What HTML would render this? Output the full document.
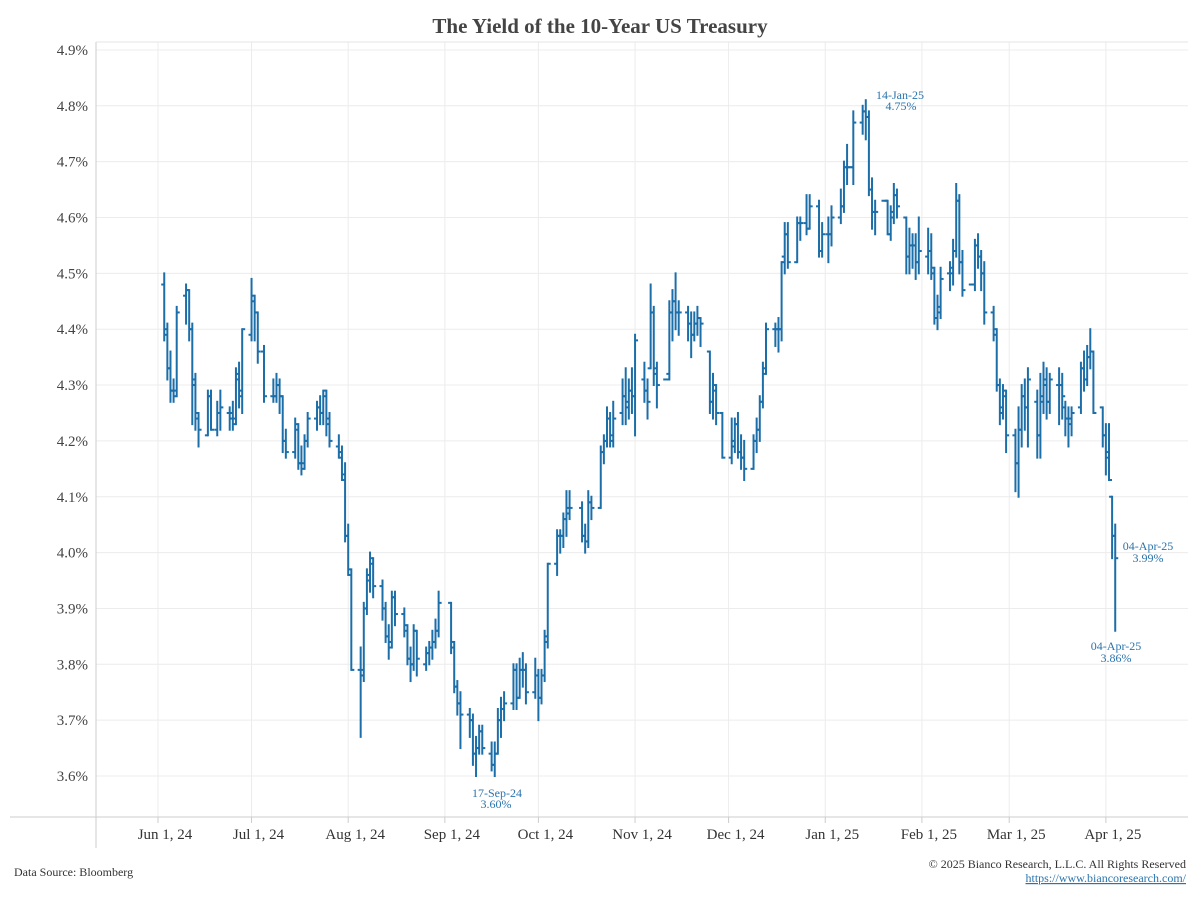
<!DOCTYPE html>
<html><head><meta charset="utf-8"><style>
body{margin:0;background:#fff;}
svg{display:block;font-family:"Liberation Serif",serif;}
</style></head><body>
<svg id="chart" width="1200" height="900">
<text x="600" y="33" text-anchor="middle" font-size="21" font-weight="bold" fill="#444">The Yield of the 10-Year US Treasury</text>
<g id="grid"></g>
<g id="axes"></g>
<g id="bars"></g>
<g font-size="12" fill="#2a74ad" text-anchor="middle">
<text x="900" y="99">14-Jan-25</text>
<text x="901" y="110">4.75%</text>
<text x="497" y="797">17-Sep-24</text>
<text x="496" y="808">3.60%</text>
<text x="1148" y="550">04-Apr-25</text>
<text x="1148" y="562">3.99%</text>
<text x="1116" y="650">04-Apr-25</text>
<text x="1116" y="662">3.86%</text>
</g>
<text x="14" y="876" font-size="12" fill="#333">Data Source: Bloomberg</text>
<text x="1186" y="868" font-size="12" fill="#333" text-anchor="end">© 2025 Bianco Research, L.L.C. All Rights Reserved</text>
<text x="1186" y="882" font-size="12" fill="#2a74ad" text-anchor="end" text-decoration="underline">https://www.biancoresearch.com/</text>
</svg>
<script>
const yTicks=[3.6,3.7,3.8,3.9,4.0,4.1,4.2,4.3,4.4,4.5,4.6,4.7,4.8,4.9];
const xTickLabels=["Jun 1, 24","Jul 1, 24","Aug 1, 24","Sep 1, 24","Oct 1, 24","Nov 1, 24","Dec 1, 24","Jan 1, 25","Feb 1, 25","Mar 1, 25","Apr 1, 25"];
const xTickDates=["2024-06-01","2024-07-01","2024-08-01","2024-09-01","2024-10-01","2024-11-01","2024-12-01","2025-01-01","2025-02-01","2025-03-01","2025-04-01"];
const rows=`2024-06-03 4.48 4.50 4.38 4.40
2024-06-04 4.39 4.41 4.31 4.33
2024-06-05 4.33 4.36 4.27 4.29
2024-06-06 4.29 4.31 4.27 4.28
2024-06-07 4.29 4.44 4.28 4.43
2024-06-10 4.46 4.48 4.41 4.47
2024-06-11 4.47 4.47 4.38 4.40
2024-06-12 4.40 4.41 4.23 4.31
2024-06-13 4.30 4.32 4.22 4.24
2024-06-14 4.25 4.25 4.19 4.22
2024-06-17 4.21 4.29 4.21 4.28
2024-06-18 4.28 4.29 4.22 4.22
2024-06-20 4.22 4.27 4.21 4.25
2024-06-21 4.25 4.29 4.22 4.26
2024-06-24 4.25 4.26 4.22 4.25
2024-06-25 4.24 4.27 4.22 4.23
2024-06-26 4.24 4.33 4.23 4.32
2024-06-27 4.31 4.34 4.26 4.29
2024-06-28 4.28 4.40 4.25 4.40
2024-07-01 4.39 4.49 4.38 4.46
2024-07-02 4.45 4.46 4.38 4.43
2024-07-03 4.43 4.43 4.34 4.36
2024-07-05 4.36 4.37 4.27 4.28
2024-07-08 4.28 4.31 4.27 4.28
2024-07-09 4.28 4.32 4.27 4.30
2024-07-10 4.30 4.31 4.25 4.28
2024-07-11 4.28 4.28 4.18 4.20
2024-07-12 4.20 4.22 4.17 4.18
2024-07-15 4.18 4.24 4.17 4.23
2024-07-16 4.22 4.23 4.15 4.16
2024-07-17 4.16 4.19 4.14 4.15
2024-07-18 4.16 4.21 4.15 4.20
2024-07-19 4.20 4.25 4.19 4.24
2024-07-22 4.24 4.27 4.22 4.26
2024-07-23 4.26 4.28 4.23 4.25
2024-07-24 4.25 4.29 4.23 4.28
2024-07-25 4.29 4.29 4.21 4.24
2024-07-26 4.23 4.25 4.19 4.20
2024-07-29 4.19 4.21 4.17 4.18
2024-07-30 4.17 4.19 4.13 4.14
2024-07-31 4.13 4.16 4.02 4.03
2024-08-01 4.03 4.05 3.96 3.97
2024-08-02 3.96 3.97 3.79 3.79
2024-08-05 3.79 3.83 3.67 3.79
2024-08-06 3.78 3.91 3.77 3.90
2024-08-07 3.90 3.97 3.89 3.96
2024-08-08 3.95 4.00 3.93 3.99
2024-08-09 3.98 3.99 3.92 3.94
2024-08-12 3.94 3.95 3.88 3.90
2024-08-13 3.90 3.91 3.84 3.85
2024-08-14 3.85 3.87 3.81 3.83
2024-08-15 3.84 3.93 3.83 3.92
2024-08-16 3.92 3.93 3.87 3.89
2024-08-19 3.89 3.90 3.85 3.87
2024-08-20 3.86 3.87 3.80 3.81
2024-08-21 3.81 3.83 3.77 3.80
2024-08-22 3.80 3.87 3.79 3.86
2024-08-23 3.86 3.86 3.78 3.81
2024-08-26 3.80 3.83 3.79 3.82
2024-08-27 3.82 3.84 3.80 3.83
2024-08-28 3.83 3.86 3.81 3.84
2024-08-29 3.84 3.88 3.83 3.86
2024-08-30 3.86 3.93 3.85 3.91
2024-09-03 3.91 3.91 3.82 3.84
2024-09-04 3.83 3.84 3.75 3.76
2024-09-05 3.76 3.77 3.71 3.73
2024-09-06 3.73 3.75 3.65 3.71
2024-09-09 3.71 3.72 3.67 3.70
2024-09-10 3.70 3.71 3.62 3.64
2024-09-11 3.64 3.67 3.60 3.65
2024-09-12 3.65 3.69 3.64 3.68
2024-09-13 3.68 3.69 3.64 3.65
2024-09-16 3.64 3.66 3.61 3.62
2024-09-17 3.62 3.66 3.60 3.64
2024-09-18 3.64 3.72 3.64 3.70
2024-09-19 3.70 3.74 3.67 3.72
2024-09-20 3.72 3.75 3.70 3.73
2024-09-23 3.73 3.80 3.72 3.79
2024-09-24 3.79 3.80 3.72 3.74
2024-09-25 3.74 3.81 3.74 3.79
2024-09-26 3.79 3.82 3.76 3.79
2024-09-27 3.79 3.80 3.73 3.75
2024-09-30 3.75 3.81 3.74 3.78
2024-10-01 3.78 3.79 3.70 3.74
2024-10-02 3.74 3.79 3.73 3.78
2024-10-03 3.78 3.86 3.77 3.85
2024-10-04 3.84 3.98 3.83 3.98
2024-10-07 3.98 4.04 3.96 4.03
2024-10-08 4.03 4.04 4.00 4.03
2024-10-09 4.03 4.07 4.01 4.06
2024-10-10 4.06 4.11 4.03 4.07
2024-10-11 4.08 4.11 4.06 4.08
2024-10-15 4.08 4.09 4.02 4.03
2024-10-16 4.03 4.05 4.00 4.02
2024-10-17 4.02 4.11 4.01 4.09
2024-10-18 4.09 4.10 4.06 4.08
2024-10-21 4.08 4.19 4.08 4.18
2024-10-22 4.18 4.21 4.16 4.20
2024-10-23 4.20 4.26 4.19 4.24
2024-10-24 4.24 4.25 4.19 4.21
2024-10-25 4.20 4.27 4.19 4.24
2024-10-28 4.25 4.31 4.23 4.28
2024-10-29 4.28 4.33 4.23 4.26
2024-10-30 4.27 4.31 4.24 4.29
2024-10-31 4.29 4.33 4.25 4.28
2024-11-01 4.28 4.39 4.21 4.38
2024-11-04 4.31 4.34 4.27 4.29
2024-11-05 4.29 4.31 4.24 4.27
2024-11-06 4.33 4.48 4.33 4.43
2024-11-07 4.43 4.44 4.30 4.33
2024-11-08 4.32 4.34 4.26 4.30
2024-11-11 4.31 4.31 4.31 4.31
2024-11-12 4.32 4.45 4.31 4.43
2024-11-13 4.43 4.47 4.38 4.45
2024-11-14 4.45 4.50 4.40 4.43
2024-11-15 4.43 4.45 4.39 4.43
2024-11-18 4.43 4.44 4.38 4.41
2024-11-19 4.41 4.43 4.35 4.39
2024-11-20 4.39 4.43 4.38 4.41
2024-11-21 4.41 4.44 4.39 4.42
2024-11-22 4.42 4.42 4.37 4.41
2024-11-25 4.36 4.36 4.25 4.27
2024-11-26 4.27 4.32 4.24 4.30
2024-11-27 4.29 4.30 4.23 4.25
2024-11-29 4.25 4.25 4.17 4.17
2024-12-02 4.17 4.24 4.16 4.19
2024-12-03 4.20 4.24 4.18 4.23
2024-12-04 4.23 4.25 4.17 4.18
2024-12-05 4.18 4.21 4.15 4.17
2024-12-06 4.17 4.20 4.13 4.15
2024-12-09 4.15 4.21 4.15 4.20
2024-12-10 4.20 4.24 4.18 4.22
2024-12-11 4.22 4.28 4.20 4.27
2024-12-12 4.27 4.34 4.26 4.32
2024-12-13 4.33 4.41 4.32 4.40
2024-12-16 4.40 4.41 4.37 4.40
2024-12-17 4.40 4.42 4.36 4.40
2024-12-18 4.40 4.52 4.38 4.52
2024-12-19 4.53 4.59 4.50 4.57
2024-12-20 4.57 4.59 4.51 4.52
2024-12-23 4.52 4.60 4.52 4.59
2024-12-24 4.59 4.60 4.56 4.59
2024-12-26 4.59 4.64 4.57 4.58
2024-12-27 4.58 4.64 4.58 4.62
2024-12-30 4.62 4.63 4.53 4.54
2024-12-31 4.54 4.59 4.53 4.57
2025-01-02 4.57 4.60 4.52 4.57
2025-01-03 4.57 4.62 4.55 4.60
2025-01-06 4.60 4.65 4.59 4.62
2025-01-07 4.62 4.70 4.61 4.69
2025-01-08 4.69 4.73 4.66 4.69
2025-01-09 4.69 4.69 4.69 4.69
2025-01-10 4.69 4.79 4.66 4.77
2025-01-13 4.77 4.80 4.75 4.79
2025-01-14 4.79 4.81 4.74 4.78
2025-01-15 4.78 4.79 4.64 4.65
2025-01-16 4.65 4.67 4.58 4.61
2025-01-17 4.61 4.63 4.57 4.61
2025-01-20 4.63 4.63 4.63 4.63
2025-01-21 4.63 4.63 4.57 4.57
2025-01-22 4.57 4.62 4.56 4.60
2025-01-23 4.61 4.66 4.59 4.64
2025-01-24 4.64 4.65 4.60 4.62
2025-01-27 4.60 4.60 4.50 4.53
2025-01-28 4.53 4.58 4.50 4.55
2025-01-29 4.55 4.57 4.51 4.55
2025-01-30 4.55 4.57 4.49 4.52
2025-01-31 4.52 4.60 4.50 4.54
2025-02-03 4.53 4.58 4.50 4.54
2025-02-04 4.54 4.57 4.49 4.51
2025-02-05 4.50 4.51 4.41 4.42
2025-02-06 4.42 4.46 4.40 4.43
2025-02-07 4.44 4.51 4.42 4.49
2025-02-10 4.50 4.52 4.47 4.50
2025-02-11 4.51 4.56 4.48 4.54
2025-02-12 4.54 4.66 4.53 4.63
2025-02-13 4.63 4.64 4.50 4.52
2025-02-14 4.52 4.54 4.46 4.47
2025-02-17 4.48 4.48 4.48 4.48
2025-02-18 4.48 4.56 4.47 4.55
2025-02-19 4.55 4.57 4.51 4.53
2025-02-20 4.53 4.54 4.47 4.50
2025-02-21 4.50 4.52 4.41 4.43
2025-02-24 4.43 4.44 4.38 4.40
2025-02-25 4.39 4.40 4.29 4.30
2025-02-26 4.30 4.31 4.23 4.25
2025-02-27 4.26 4.30 4.24 4.29
2025-02-28 4.28 4.29 4.18 4.21
2025-03-03 4.21 4.22 4.11 4.16
2025-03-04 4.16 4.26 4.10 4.22
2025-03-05 4.22 4.30 4.19 4.28
2025-03-06 4.28 4.31 4.22 4.26
2025-03-07 4.26 4.33 4.19 4.31
2025-03-10 4.27 4.29 4.17 4.21
2025-03-11 4.21 4.32 4.17 4.28
2025-03-12 4.27 4.34 4.25 4.31
2025-03-13 4.30 4.33 4.24 4.27
2025-03-14 4.27 4.32 4.25 4.31
2025-03-17 4.30 4.33 4.23 4.30
2025-03-18 4.30 4.32 4.24 4.28
2025-03-19 4.26 4.27 4.21 4.24
2025-03-20 4.24 4.26 4.19 4.24
2025-03-21 4.23 4.26 4.21 4.25
2025-03-24 4.26 4.34 4.25 4.33
2025-03-25 4.33 4.36 4.29 4.31
2025-03-26 4.31 4.37 4.30 4.35
2025-03-27 4.35 4.40 4.33 4.36
2025-03-28 4.36 4.36 4.25 4.25
2025-03-31 4.26 4.26 4.19 4.21
2025-04-01 4.21 4.23 4.14 4.17
2025-04-02 4.18 4.23 4.13 4.13
2025-04-03 4.10 4.10 3.99 4.03
2025-04-04 4.03 4.05 3.86 3.99`.split("\n").map(r=>r.trim().split(" "));
const dates=rows.map(r=>r[0]);
const opens=rows.map(r=>+r[1]);
const highs=rows.map(r=>+r[2]);
const lows=rows.map(r=>+r[3]);
const closes=rows.map(r=>+r[4]);

const NS="http://www.w3.org/2000/svg";
const L=96,R=1188,T=42,B=817;
const day0=Date.UTC(2024,5,1);
const pxPerDay=3.118;
function xs(d){const t=Date.parse(d+"T00:00:00Z");return 158+(t-day0)/86400000*pxPerDay;}
function ys(v){return 552.6-(v-4.0)*558.5;}
function mk(tag,attrs,parent){const e=document.createElementNS(NS,tag);for(const k in attrs)e.setAttribute(k,attrs[k]);parent.appendChild(e);return e;}
const grid=document.getElementById("grid"),axes=document.getElementById("axes"),bars=document.getElementById("bars");

yTicks.forEach(v=>{
 const y=ys(v);
 const g=mk("line",{x1:L,x2:R,y1:y,y2:y,stroke:"#ececec","stroke-width":1},grid);
 
 
 const t=mk("text",{x:88,y:y+5,"text-anchor":"end","font-size":15,fill:"#444"},axes);
 t.textContent=v.toFixed(1)+"%";
 
 
});
xTickDates.forEach((d,i)=>{
 const x=xs(d);
 const g=mk("line",{x1:x,x2:x,y1:T,y2:B,stroke:"#ececec","stroke-width":1},grid);
 
 
 const tk=mk("line",{x1:x,x2:x,y1:B,y2:B+6,stroke:"#ccc","stroke-width":1},axes);
 
 
 const t=mk("text",{x:x+7,y:839,"text-anchor":"middle","font-size":15,fill:"#333"},axes);
 t.textContent=xTickLabels[i];
 
 
});
const fr=mk("line",{x1:L,x2:L,y1:T,y2:848,stroke:"#ccc","stroke-width":1},axes);


const bl=mk("line",{x1:10,x2:R,y1:B,y2:B,stroke:"#ccc","stroke-width":1},axes);


const tl=mk("line",{x1:L,x2:R,y1:T,y2:T,stroke:"#e4e4e4","stroke-width":1},axes);



const C="#1c6ea9";
dates.forEach((d,i)=>{
 const x=xs(d);
 const g=mk("g",{stroke:C,"stroke-width":2},bars);
 
 
 if(highs[i]===lows[i]){mk("line",{x1:x-3,x2:x+3,y1:ys(closes[i]),y2:ys(closes[i])},g);return;}
 mk("line",{x1:x,x2:x,y1:ys(highs[i])-1,y2:ys(lows[i])+1},g);
 mk("line",{x1:x-3,x2:x,y1:ys(opens[i]),y2:ys(opens[i])},g);
 mk("line",{x1:x,x2:x+3,y1:ys(closes[i]),y2:ys(closes[i])},g);
});
</script>
</body></html>
